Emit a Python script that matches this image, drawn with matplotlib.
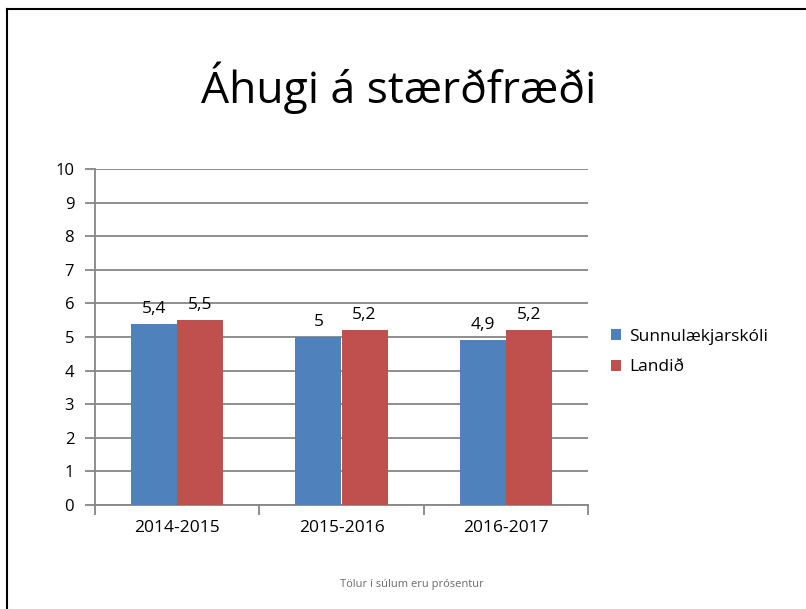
import numpy as np
import matplotlib.pyplot as plt
from matplotlib.lines import Line2D

# data
years = ["2014-2015", "2015-2016", "2016-2017"]
sunnulaekjarskoli = [5.4, 5.0, 4.9]
landid = [5.5, 5.2, 5.2]
series_names = ["Sunnulækjarskóli", "Landið"]
colors = ["#4F81BD", "#C0504D"]

plt.rcParams['font.family'] = ['Open Sans', 'DejaVu Sans']

fig = plt.figure(figsize=(8.06, 6.09), dpi=100)
ax = fig.add_axes([95 / 806, 1 - 505 / 609, 493 / 806, 336 / 609])

x = np.arange(len(years))
w = 0.28
b1 = ax.bar(x - w / 2, sunnulaekjarskoli, w, color=colors[0], label=series_names[0], zorder=3)
b2 = ax.bar(x + w / 2, landid, w, color=colors[1], label=series_names[1], zorder=3)

#labels on top of bars, comma as decimal sign
for bars in (b1, b2):
    for r in bars:
        v = r.get_height()
        txt = ("%g" % v).replace(".", ",")
        ax.annotate(txt, (r.get_x() + r.get_width() / 2, v), xytext=(0, 5),
                    textcoords="offset points", ha="center", va="bottom", fontsize=12.5)

ax.set_xlim(-0.5, 2.5)
ax.set_ylim(0, 10)
ax.set_yticks(range(0, 11))
ax.yaxis.grid(True, color="#868686", linewidth=1.3, zorder=0)
ax.set_xticks(x)
ax.set_xticklabels(years, fontsize=12.5)
ax.set_xticks([-0.5, 0.5, 1.5, 2.5], minor=True)
ax.tick_params(axis="x", which="major", length=0, pad=11)
ax.tick_params(axis="x", which="minor", length=7, color="#868686", width=1.3)
ax.tick_params(axis="y", length=7, color="#868686", width=1.3, labelsize=12, pad=8)
for s in ["top", "right"]:
    ax.spines[s].set_visible(False)
for s in ["left", "bottom"]:
    ax.spines[s].set_color("#868686")
    ax.spines[s].set_linewidth(1.3)

ax.legend(loc="upper left", bbox_to_anchor=(595 / 806, 1 - 313 / 609), bbox_transform=fig.transFigure,
          frameon=False, fontsize=12.5, handlelength=0.6, handleheight=0.6, handletextpad=0.45,
          labelspacing=0.85)

fig.text(399 / 806, 1 - 88 / 609, "Áhugi á stærðfræði", ha="center", va="center", fontsize=32)
fig.text(412 / 806, 1 - 584 / 609, "Tölur í súlum eru prósentur", ha="center", va="center",
         fontsize=8, color="#6a6a6a")

#frame lines on top and left
fig.add_artist(Line2D([7 / 806, 1], [1 - 9 / 609, 1 - 9 / 609], color="black", linewidth=1.5, transform=fig.transFigure))
fig.add_artist(Line2D([7 / 806, 7 / 806], [0, 1 - 9 / 609], color="black", linewidth=1.5, transform=fig.transFigure))

plt.savefig("out.png", dpi=100)
plt.close('all')
